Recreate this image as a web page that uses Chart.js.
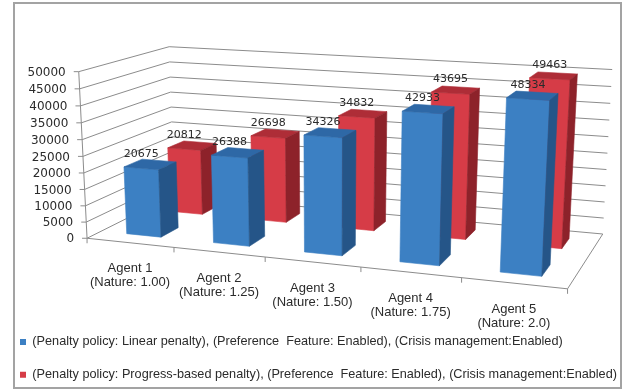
<!DOCTYPE html>
<html>
<head>
<meta charset="utf-8">
<script src="https://cdn.jsdelivr.net/npm/chart.js@4.4.1/dist/chart.umd.min.js"></script>
<style>
  html, body { margin: 0; padding: 0; background: #fff; }
  #wrap { width: 626px; height: 391px; }
</style>
</head>
<body>
<div id="wrap"><canvas id="chart" width="626" height="391"></canvas></div>
<script>
// ---- data ----
const agents = ['Agent 1', 'Agent 2', 'Agent 3', 'Agent 4', 'Agent 5'];
const natures = ['(Nature: 1.00)', '(Nature: 1.25)', '(Nature: 1.50)', '(Nature: 1.75)', '(Nature: 2.0)'];
const linearPenalty = [20675, 26388, 34326, 42933, 48334];
const progressPenalty = [20812, 26698, 34832, 43695, 49463];
const seriesNames = [
  '(Penalty policy: Linear penalty), (Preference  Feature: Enabled), (Crisis management:Enabled)',
  '(Penalty policy: Progress-based penalty), (Preference  Feature: Enabled), (Crisis management:Enabled)'
];
const yMin = 0, yMax = 50000, yStep = 5000;

// ---- styling ----
const FACE = [
  { front: '#3c80c3', top: '#2e68a6', side: '#255588' },  // linear penalty
  { front: '#d63c47', top: '#ae2d37', side: '#8d222a' }   // progress-based penalty
];
const GRID = '#8c8c8c';
const TEXT = '#2b2b2b';
const NUM_FONT = '"DejaVu Sans", sans-serif';
const LABEL_FONT = '"Liberation Sans", Arial, sans-serif';

// Depth slot (front, back) of each series row inside the plot box.
const DEPTH = [[0.15, 0.35], [0.65, 0.85]];

// Screen anchors of the 3-D plot box: [X, Y, Z, px, py]
// X runs across the categories, Y is the value fraction, Z goes back into the box.
const BOX_ANCHORS = [
  [0, 0, 0, 88, 237],
  [0, 1, 0, 78, 72],
  [0, 0, 1, 173, 197],
  [0, 1, 1, 170, 46],
  [1, 0, 1, 603, 232],
  [1, 1, 1, 612, 70],
  [1, 0, 0, 567, 290],
  [0.2, 0, 0, 174, 246.5],
  [0.4, 0, 0, 264, 256.5],
  [0.6, 0, 0, 362, 267.5],
  [0.8, 0, 0, 462, 278.6]
];

// Least-squares perspective camera (DLT) through the box anchors.
function fitCamera(anchors) {
  const S = 300;
  const rows = [], rhs = [];
  anchors.forEach(([X, Y, Z, u0, v0]) => {
    const u = (u0 - S) / S, v = (v0 - S) / S;
    rows.push([X, Y, Z, 1, 0, 0, 0, 0, -u * X, -u * Y, -u * Z]); rhs.push(u);
    rows.push([0, 0, 0, 0, X, Y, Z, 1, -v * X, -v * Y, -v * Z]); rhs.push(v);
  });
  const n = 11;
  const M = [];
  for (let i = 0; i < n; i++) M.push(new Array(n + 1).fill(0));
  rows.forEach((r, k) => {
    for (let i = 0; i < n; i++) {
      for (let j = 0; j < n; j++) M[i][j] += r[i] * r[j];
      M[i][n] += r[i] * rhs[k];
    }
  });
  for (let c = 0; c < n; c++) {
    let piv = c;
    for (let r = c + 1; r < n; r++) if (Math.abs(M[r][c]) > Math.abs(M[piv][c])) piv = r;
    [M[c], M[piv]] = [M[piv], M[c]];
    for (let r = 0; r < n; r++) {
      if (r === c) continue;
      const f = M[r][c] / M[c][c];
      for (let j = c; j <= n; j++) M[r][j] -= f * M[c][j];
    }
  }
  const p = M.map((row, i) => row[n] / row[i]);
  return (X, Y, Z) => {
    const w = p[8] * X + p[9] * Y + p[10] * Z + 1;
    return {
      x: S + S * (p[0] * X + p[1] * Y + p[2] * Z + p[3]) / w,
      y: S + S * (p[4] * X + p[5] * Y + p[6] * Z + p[7]) / w
    };
  };
}
const project = fitCamera(BOX_ANCHORS);

function line(ctx, a, b) {
  ctx.beginPath();
  ctx.moveTo(a.x, a.y);
  ctx.lineTo(b.x, b.y);
  ctx.stroke();
}
function polyArea(pts) {
  let s = 0;
  for (let i = 0; i < pts.length; i++) {
    const a = pts[i], b = pts[(i + 1) % pts.length];
    s += a.x * b.y - b.x * a.y;
  }
  return s / 2;
}
function fillPoly(ctx, pts, color) {
  ctx.beginPath();
  ctx.moveTo(pts[0].x, pts[0].y);
  for (let i = 1; i < pts.length; i++) ctx.lineTo(pts[i].x, pts[i].y);
  ctx.closePath();
  ctx.fillStyle = color;
  ctx.fill();
  ctx.strokeStyle = color;
  ctx.lineWidth = 0.6;
  ctx.stroke();
}

// Draws one column as a box, keeping only faces turned towards the viewer.
function drawBox(ctx, xl, xr, yb, yt, zf, zb, colors) {
  const P = (x, y, z) => project(x, y, z);
  const faces = [
    { c: colors.front, v: [P(xl, yb, zf), P(xl, yt, zf), P(xr, yt, zf), P(xr, yb, zf)] },
    { c: colors.top,   v: [P(xl, yt, zf), P(xl, yt, zb), P(xr, yt, zb), P(xr, yt, zf)] },
    { c: colors.side,  v: [P(xr, yb, zf), P(xr, yt, zf), P(xr, yt, zb), P(xr, yb, zb)] },
    { c: colors.side,  v: [P(xl, yb, zf), P(xl, yb, zb), P(xl, yt, zb), P(xl, yt, zf)] },
    { c: colors.side,  v: [P(xl, yb, zb), P(xr, yb, zb), P(xr, yt, zb), P(xl, yt, zb)] }
  ];
  const ref = Math.sign(polyArea(faces[0].v));
  faces.forEach(f => {
    const a = polyArea(f.v);
    if (Math.sign(a) === ref && Math.abs(a) > 0.5) fillPoly(ctx, f.v, f.c);
  });
}

const scene3d = {
  id: 'scene3d',
  beforeDraw(chart) {
    const ctx = chart.ctx;
    ctx.save();
    ctx.fillStyle = '#ffffff';
    ctx.fillRect(0, 0, chart.width, chart.height);
    ctx.strokeStyle = '#a3a3a3';
    ctx.lineWidth = 2;
    ctx.strokeRect(14, 3, 607, 385);
    ctx.restore();
  },
  beforeDatasetsDraw(chart) {
    const ctx = chart.ctx;
    const xs = chart.scales.x, ys = chart.scales.y, area = chart.chartArea;
    const y0 = ys.getPixelForValue(yMin), y1 = ys.getPixelForValue(yMax);
    const normY = v => (y0 - ys.getPixelForValue(v)) / (y0 - y1);
    const normX = px => (px - area.left) / (area.right - area.left);

    ctx.save();
    // walls: side wall and back wall gridlines
    ctx.strokeStyle = GRID;
    ctx.lineWidth = 1;
    ys.ticks.forEach(t => {
      const Y = normY(t.value);
      const a = project(0, Y, 0), b = project(0, Y, 1), c = project(1, Y, 1);
      line(ctx, a, b);
      line(ctx, b, c);
      line(ctx, { x: a.x - 5, y: a.y }, a);
    });
    // value axis
    line(ctx, project(0, 0, 0), project(0, 1, 0));
    // floor edges
    line(ctx, project(0, 0, 0), project(1, 0, 0));
    line(ctx, project(1, 0, 0), project(1, 0, 1));
    // category ticks
    for (let i = 0; i <= agents.length; i++) {
      const X = normX(xs.getPixelForValue(i - 0.5));
      const p = project(X, 0, 0);
      line(ctx, p, { x: p.x, y: p.y + 5 });
    }

    // value tick labels
    ctx.fillStyle = TEXT;
    ctx.font = '12px ' + NUM_FONT;
    ctx.textAlign = 'right';
    ctx.textBaseline = 'middle';
    ys.ticks.forEach(t => {
      const p = project(0, normY(t.value), 0);
      ctx.fillText(String(t.value), p.x - 13, p.y + 1);
    });

    // category labels
    ctx.font = '13px ' + LABEL_FONT;
    ctx.textAlign = 'center';
    chart.data.labels.forEach((lbl, i) => {
      const p = project(normX(xs.getPixelForValue(i)), 0, 0);
      lbl.forEach((s, k) => ctx.fillText(s, p.x, p.y + 26 + k * 14));
    });

    // columns: back row first
    const labelSpots = [];
    for (let d = chart.data.datasets.length - 1; d >= 0; d--) {
      const meta = chart.getDatasetMeta(d);
      const [zf, zb] = DEPTH[d];
      meta.data.forEach((bar, i) => {
        const { x, y, base, width } = bar.getProps(['x', 'y', 'base', 'width'], true);
        const xl = normX(x - width / 2), xr = normX(x + width / 2);
        const yt = (base - y) / (y0 - y1);
        drawBox(ctx, xl, xr, 0, yt, zf, zb, FACE[d]);
        const tp = project((xl + xr) / 2, yt, zf);
        labelSpots.push({ x: tp.x, y: tp.y - 14, text: String(chart.data.datasets[d].data[i]) });
      });
    }

    // value labels on top of everything
    ctx.fillStyle = TEXT;
    ctx.font = '11px ' + NUM_FONT;
    ctx.textAlign = 'center';
    ctx.textBaseline = 'middle';
    labelSpots.forEach(s => ctx.fillText(s.text, s.x, s.y));
    ctx.restore();
    return false;
  }
};

Chart.defaults.font.family = LABEL_FONT;
Chart.defaults.color = TEXT;

new Chart(document.getElementById('chart'), {
  type: 'bar',
  data: {
    labels: agents.map((a, i) => [a, natures[i]]),
    datasets: [
      { label: seriesNames[0], data: linearPenalty, backgroundColor: FACE[0].front, borderWidth: 0 },
      { label: seriesNames[1], data: progressPenalty, backgroundColor: FACE[1].front, borderWidth: 0 }
    ]
  },
  options: {
    responsive: false,
    animation: false,
    devicePixelRatio: 1,
    grouped: false,
    categoryPercentage: 1,
    barPercentage: 0.4,
    layout: { padding: 0 },
    scales: {
      x: { display: false },
      y: { display: false, min: yMin, max: yMax, ticks: { stepSize: yStep } }
    },
    plugins: {
      legend: {
        position: 'bottom',
        align: 'start',
        labels: {
          boxWidth: 6,
          boxHeight: 6,
          padding: 20,
          color: TEXT,
          font: { family: LABEL_FONT, size: 12.7 }
        }
      },
      tooltip: { enabled: false }
    }
  },
  plugins: [scene3d]
});
</script>
</body>
</html>
